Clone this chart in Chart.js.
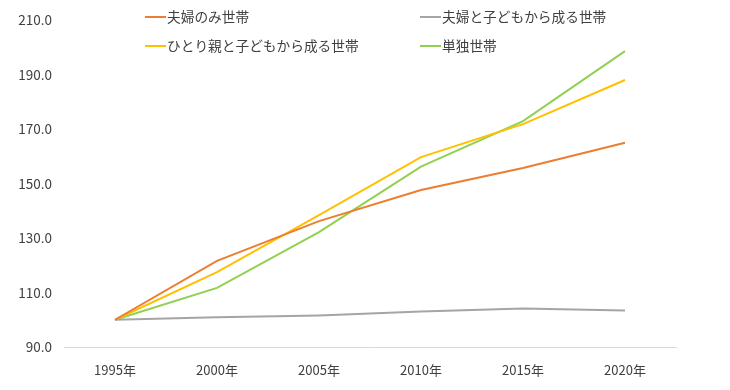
<!DOCTYPE html>
<html lang="ja">
<head>
<meta charset="utf-8">
<script src="https://cdn.jsdelivr.net/npm/chart.js@4"></script>
<style>
  body { margin: 0; background: #fff; }
</style>
</head>
<body>
<canvas id="c" width="730" height="390"></canvas>
<script>
// 世帯類型別の推移 (1995年=100)
const years = ['1995年', '2000年', '2005年', '2010年', '2015年', '2020年'];
const coupleOnly = [100, 121.6, 136.2, 147.6, 155.7, 165.0];
const coupleKids = [100, 100.9, 101.6, 103.0, 104.1, 103.4];
const singleParent = [100, 117.5, 138.4, 159.7, 171.8, 188.0];
const singlePerson = [100, 111.7, 132.2, 156.2, 172.9, 198.6];
const yTicks = [90, 110, 130, 150, 170, 190, 210];

const series = [
    { label: '夫婦のみ世帯', data: coupleOnly, color: '#ED7D31', lx: 145, ly: 17 },
    { label: '夫婦と子どもから成る世帯', data: coupleKids, color: '#A5A5A5', lx: 420, ly: 17 },
    { label: 'ひとり親と子どもから成る世帯', data: singleParent, color: '#FFC000', lx: 145, ly: 46 },
    { label: '単独世帯', data: singlePerson, color: '#92D050', lx: 420, ly: 46 }
];

// legend in 2 columns, drawn on the canvas
const legendPlugin = {
    id: 'twoColLegend',
    afterDraw(chart) {
        const c = chart.ctx;
        c.save();
        c.font = '13.7px "Noto Sans CJK JP", sans-serif';
        c.textBaseline = 'middle';
        c.fillStyle = '#404040';
        series.forEach(s => {
            c.strokeStyle = s.color;
            c.lineWidth = 2;
            c.beginPath();
            c.moveTo(s.lx, s.ly);
            c.lineTo(s.lx + 21, s.ly);
            c.stroke();
            c.fillText(s.label, s.lx + 22, s.ly);
        });
        c.restore();
    }
};

const ctx = document.getElementById('c').getContext('2d');
new Chart(ctx, {
    type: 'line',
    data: {
        labels: years,
        datasets: series.map(s => ({
            label: s.label,
            data: s.data,
            borderColor: s.color,
            backgroundColor: s.color,
            borderWidth: 2,
            pointRadius: 0,
            tension: 0
        }))
    },
    options: {
        responsive: false,
        animation: false,
        layout: { padding: { top: 14, right: 54, bottom: 0, left: 0 } },
        plugins: {
            legend: { display: false },
            tooltip: { enabled: false }
        },
        scales: {
            x: {
                offset: true,
                grid: { display: false, drawTicks: false },
                border: { display: true, color: '#D9D9D9', width: 1 },
                ticks: {
                    padding: 15,
                    color: '#404040',
                    font: { family: 'Noto Sans CJK JP', size: 13 },
                    maxRotation: 0
                },
                afterFit: scale => { scale.height = 43; }
            },
            y: {
                min: 90,
                max: 210,
                grid: { display: false, drawTicks: false },
                border: { display: false },
                afterBuildTicks: scale => { scale.ticks = yTicks.map(v => ({ value: v })); },
                afterFit: scale => { scale.width = 64; },
                ticks: {
                    padding: 12,
                    color: '#404040',
                    font: { family: 'Noto Sans CJK JP', size: 13.5 },
                    callback: v => v.toFixed(1)
                }
            }
        }
    },
    plugins: [legendPlugin]
});
</script>
</body>
</html>
